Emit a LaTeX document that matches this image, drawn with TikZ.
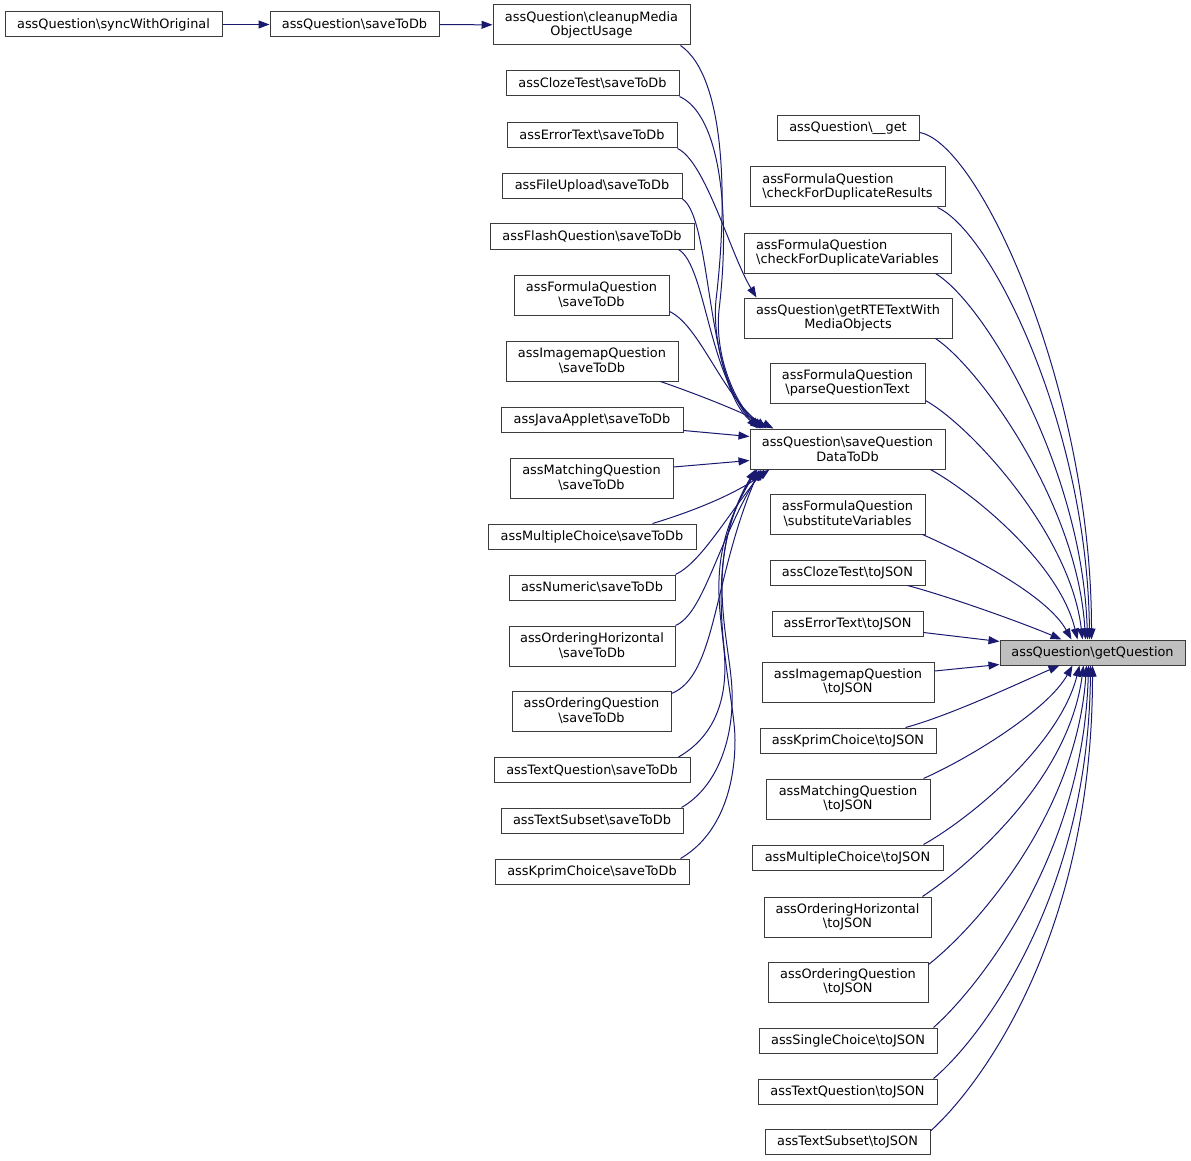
\documentclass[tikz,border=0pt]{standalone}
\usepackage{fontspec}
\setmainfont{DejaVu Sans}
\usetikzlibrary{arrows.meta}
\definecolor{edgeblue}{RGB}{25,25,112}
\definecolor{boxline}{RGB}{60,60,60}
\definecolor{hl}{RGB}{191,191,191}
\newcommand{\bsl}{\textbackslash}
\begin{document}
\begin{tikzpicture}[x=1pt,y=-1pt,
  box/.style={draw=boxline, line width=1pt, fill=white, inner sep=0pt,
    minimum height=25pt, font=\fontsize{12.9}{14.7}\selectfont, align=center, text=black},
  tall/.style={minimum height=40pt},
  edge/.style={draw=edgeblue, line width=1pt, -{Triangle[length=11pt,width=8pt]}, fill=none}
]
\useasboundingbox (0,0) rectangle (1191,1161);

% column 1-2
\node[box, minimum width=217pt] (sync) at (113.5,24.5) {assQuestion\bsl syncWithOriginal};
\node[box, minimum width=169pt] (qsave) at (354.5,24.5) {assQuestion\bsl saveToDb};

% column 3
\node[box, tall, minimum width=197pt] (cleanup) at (591.5,25) {assQuestion\bsl cleanupMedia\\ObjectUsage};
\node[box, minimum width=173pt] (clozeSave) at (592.5,83.5) {assClozeTest\bsl saveToDb};
\node[box, minimum width=170pt] (errSave) at (592,135.5) {assErrorText\bsl saveToDb};
\node[box, minimum width=180pt] (fileSave) at (592,186) {assFileUpload\bsl saveToDb};
\node[box, minimum width=204pt] (flashSave) at (592,236.5) {assFlashQuestion\bsl saveToDb};
\node[box, tall, minimum width=155pt] (formSave) at (591.5,295) {assFormulaQuestion\\\bsl saveToDb};
\node[box, tall, minimum width=172pt] (imgSave) at (592,361) {assImagemapQuestion\\\bsl saveToDb};
\node[box, minimum width=182pt] (javaSave) at (592,419.5) {assJavaApplet\bsl saveToDb};
\node[box, tall, minimum width=163pt] (matchSave) at (591.5,478) {assMatchingQuestion\\\bsl saveToDb};
\node[box, minimum width=208pt] (mcSave) at (592,536.5) {assMultipleChoice\bsl saveToDb};
\node[box, minimum width=166pt] (numSave) at (592,587.5) {assNumeric\bsl saveToDb};
\node[box, tall, minimum width=166pt] (ohSave) at (592,646) {assOrderingHorizontal\\\bsl saveToDb};
\node[box, tall, minimum width=159pt] (oqSave) at (591.5,711) {assOrderingQuestion\\\bsl saveToDb};
\node[box, minimum width=196pt] (tqSave) at (592,770) {assTextQuestion\bsl saveToDb};
\node[box, minimum width=182pt] (tsSave) at (592,820.5) {assTextSubset\bsl saveToDb};
\node[box, minimum width=194pt] (kpSave) at (592,871.5) {assKprimChoice\bsl saveToDb};

% column 4
\node[box, minimum width=142pt] (get) at (848,128.5) {assQuestion\bsl\_\_get};
\node[box, tall, minimum width=195pt, align=left] (cdr) at (847.5,187) {assFormulaQuestion\\\bsl checkForDuplicateResults};
\node[box, tall, minimum width=207pt, align=left] (cdv) at (847.5,253) {assFormulaQuestion\\\bsl checkForDuplicateVariables};
\node[box, tall, minimum width=208pt] (rte) at (848,318) {assQuestion\bsl getRTETextWith\\MediaObjects};
\node[box, tall, minimum width=155pt] (pqt) at (847.5,383) {assFormulaQuestion\\\bsl parseQuestionText};
\node[box, tall, minimum width=195pt] (sqd) at (847.5,449) {assQuestion\bsl saveQuestion\\DataToDb};
\node[box, tall, minimum width=155pt] (sv) at (847.5,514) {assFormulaQuestion\\\bsl substituteVariables};
\node[box, minimum width=155pt] (clozeJ) at (847.5,572.5) {assClozeTest\bsl toJSON};
\node[box, minimum width=151pt] (errJ) at (847.5,623.5) {assErrorText\bsl toJSON};
\node[box, tall, minimum width=172pt] (imgJ) at (848,682) {assImagemapQuestion\\\bsl toJSON};
\node[box, minimum width=176pt] (kpJ) at (848,740.5) {assKprimChoice\bsl toJSON};
\node[box, tall, minimum width=164pt] (matchJ) at (848,799) {assMatchingQuestion\\\bsl toJSON};
\node[box, minimum width=191pt] (mcJ) at (847.5,857.5) {assMultipleChoice\bsl toJSON};
\node[box, tall, minimum width=167pt] (ohJ) at (847.5,917) {assOrderingHorizontal\\\bsl toJSON};
\node[box, tall, minimum width=160pt] (oqJ) at (848,982) {assOrderingQuestion\\\bsl toJSON};
\node[box, minimum width=178pt] (scJ) at (848,1040.5) {assSingleChoice\bsl toJSON};
\node[box, minimum width=179pt] (tqJ) at (847.5,1091.5) {assTextQuestion\bsl toJSON};
\node[box, minimum width=165pt] (tsJ) at (847.5,1142) {assTextSubset\bsl toJSON};

% column 5
\node[box, minimum width=185pt, fill=hl] (gq) at (1092.5,652.5) {assQuestion\bsl getQuestion};

% chain
\draw[edge] (sync) -- (qsave);
\draw[edge] (qsave) -- (cleanup);

% column 3 -> column 4
\draw[edge] ([shift={(-10,0)}]cleanup.south east) .. controls +(45,31) and +(12,-100) .. (716,300) .. controls +(-4,40) and +(-30,-35) .. ([shift={(8,0)}]sqd.north west);
\draw[edge] (clozeSave.south east) .. controls +(40,18) and +(12,-100) .. (719,310) .. controls +(-4,40) and +(-30,-35) .. ([shift={(10,0)}]sqd.north west);
\draw[edge] (errSave.south east) .. controls +(28,13) and +(-26,-43) .. ([shift={(13,0)}]rte.north west);
\draw[edge] (fileSave.south east) .. controls +(30,20) and +(-56,-39) .. ([shift={(12,0)}]sqd.north west);
\draw[edge] ([shift={(-16,0)}]flashSave.south east) .. controls +(28,16) and +(-55,-45) .. ([shift={(14,0)}]sqd.north west);
\draw[edge] ([shift={(0,-4)}]formSave.south east) .. controls +(30,14) and +(-45,-35) .. ([shift={(17,0)}]sqd.north west);
\draw[edge] ([shift={(-18,0)}]imgSave.south east) .. controls +(40,14) and +(-35,-18) .. ([shift={(24,0)}]sqd.north west);
\draw[edge] ([shift={(0,-2)}]javaSave.south east) -- ([shift={(0,8)}]sqd.north west);
\draw[edge] ([shift={(0,-11)}]matchSave.east) -- ([shift={(0,-9)}]sqd.south west);
\draw[edge] ([shift={(-44,0)}]mcSave.north east) .. controls +(40,-12) and +(-35,25) .. ([shift={(20,0)}]sqd.south west);
\draw[edge] (numSave.north east) .. controls +(25,-12) and +(-40,50) .. ([shift={(15,0)}]sqd.south west);
\draw[edge] (ohSave.north east) .. controls +(28,-12) and +(-45,75) .. ([shift={(12,0)}]sqd.south west);
\draw[edge] ([shift={(0,3)}]oqSave.north east) .. controls +(45,-18) and +(-47,110) .. ([shift={(10,0)}]sqd.south west);
\draw[edge] ([shift={(-12,0)}]tqSave.north east) .. controls +(35,-20) and +(5,50) .. (724,650) .. controls +(-5,-50) and +(-50,80) .. ([shift={(8,0)}]sqd.south west);
\draw[edge] ([shift={(-2,0)}]tsSave.north east) .. controls +(35,-20) and +(2,50) .. (732,690) .. controls +(-2,-50) and +(-55,90) .. ([shift={(7,0)}]sqd.south west);
\draw[edge] ([shift={(-9,0)}]kpSave.north east) .. controls +(38,-22) and +(0,50) .. (735,740) .. controls +(0,-50) and +(-60,100) .. ([shift={(6,0)}]sqd.south west);

% column 4 -> getQuestion
\draw[edge] ([shift={(0,4)}]get.east) .. controls +(60,10) and +(0,-250) .. ([shift={(92,0)}]gq.north west);
\draw[edge] ([shift={(-8,0)}]cdr.south east) .. controls +(55,25) and +(-2,-210) .. ([shift={(90,0)}]gq.north west);
\draw[edge] ([shift={(-16,0)}]cdv.south east) .. controls +(50,30) and +(-5,-170) .. ([shift={(88,0)}]gq.north west);
\draw[edge] ([shift={(-17,0)}]rte.south east) .. controls +(45,30) and +(-8,-135) .. ([shift={(86,0)}]gq.north west);
\draw[edge] ([shift={(0,-3)}]pqt.south east) .. controls +(45,25) and +(-12,-105) .. ([shift={(83,0)}]gq.north west);
\draw[edge] ([shift={(-15,0)}]sqd.south east) .. controls +(45,25) and +(-18,-75) .. ([shift={(78,0)}]gq.north west);
\draw[edge] ([shift={(-3,0)}]sv.south east) .. controls +(45,20) and +(-25,-45) .. ([shift={(72,0)}]gq.north west);
\draw[edge] ([shift={(-18,0)}]clozeJ.south east) .. controls +(45,12) and +(-35,-15) .. ([shift={(62,0)}]gq.north west);
\draw[edge] ([shift={(0,-4)}]errJ.south east) -- ([shift={(0,2)}]gq.north west);
\draw[edge] ([shift={(0,-11)}]imgJ.east) -- ([shift={(0,-1)}]gq.south west);
\draw[edge] ([shift={(-31,0)}]kpJ.north east) .. controls +(45,-12) and +(-35,15) .. ([shift={(60,0)}]gq.south west);
\draw[edge] ([shift={(-7,0)}]matchJ.north east) .. controls +(45,-20) and +(-25,45) .. ([shift={(73,0)}]gq.south west);
\draw[edge] ([shift={(-20,0)}]mcJ.north east) .. controls +(45,-25) and +(-20,80) .. ([shift={(80,0)}]gq.south west);
\draw[edge] ([shift={(-9,0)}]ohJ.north east) .. controls +(45,-30) and +(-15,115) .. ([shift={(84,0)}]gq.south west);
\draw[edge] ([shift={(0,3)}]oqJ.north east) .. controls +(45,-35) and +(-10,150) .. ([shift={(87,0)}]gq.south west);
\draw[edge] ([shift={(-4,0)}]scJ.north east) .. controls +(45,-40) and +(-5,190) .. ([shift={(89,0)}]gq.south west);
\draw[edge] ([shift={(-4,0)}]tqJ.north east) .. controls +(48,-40) and +(-2,230) .. ([shift={(91,0)}]gq.south west);
\draw[edge] ([shift={(0,2)}]tsJ.north east) .. controls +(50,-45) and +(0,270) .. ([shift={(93,0)}]gq.south west);
\end{tikzpicture}
\end{document}
